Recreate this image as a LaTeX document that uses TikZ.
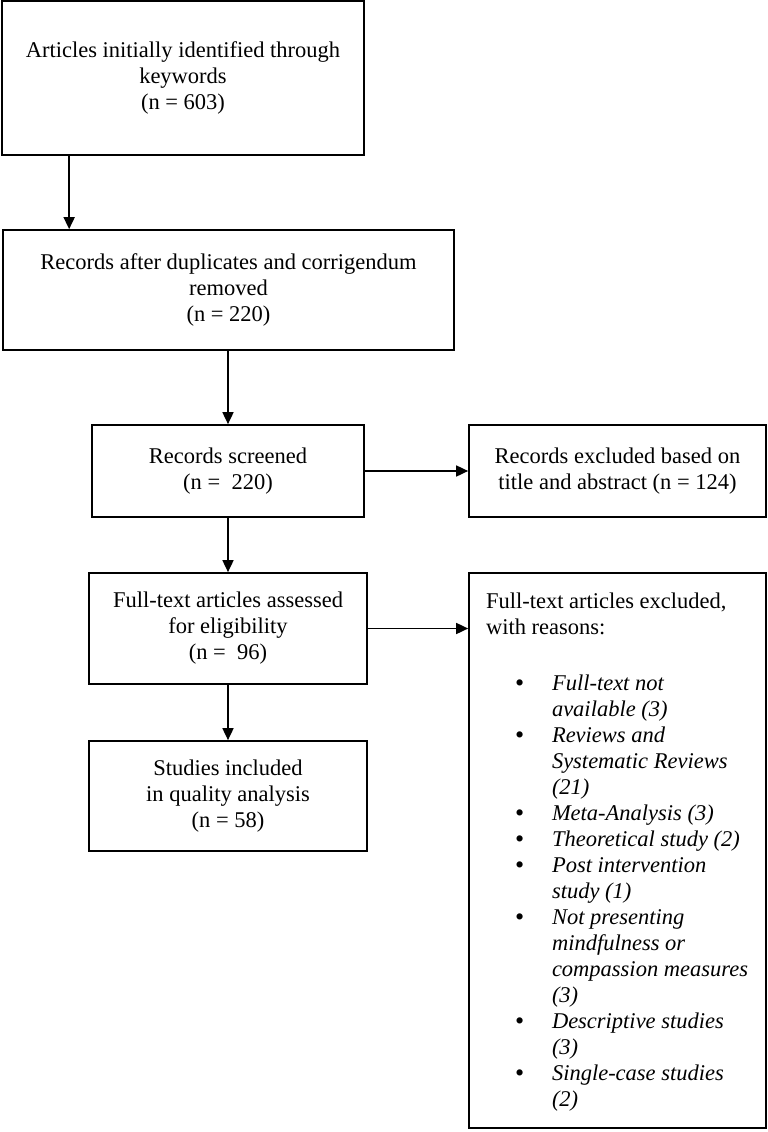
\documentclass[tikz,border=0pt]{standalone}
\usepackage{fontspec}
\setmainfont{Liberation Serif}
\usetikzlibrary{arrows.meta}
\newcommand{\boxfont}{\fontsize{22.5}{26}\selectfont}
\newcommand{\bigdot}{\raisebox{-1pt}{\fontsize{26}{26}\selectfont\textbullet}}

\begin{document}
\begin{tikzpicture}[x=1pt,y=-1pt,
    box/.style={draw,line width=1.7pt,inner sep=0pt,align=center,font=\boxfont},
    arr/.style={line width=1.7pt,-{Triangle[length=12pt,width=11pt]}}]
  \useasboundingbox (0,0) rectangle (768,1132);

  \node[box,minimum width=362pt,minimum height=154pt] (art) at (183,78) {Articles initially identified through\\keywords\\(n = 603)};
  \node[box,minimum width=451pt,minimum height=120pt] (dup) at (228.5,290) {Records after duplicates and corrigendum\\removed\\(n = 220)};
  \node[box,minimum width=272pt,minimum height=92pt] (scr) at (228,471) {Records screened\\(n = \ 220)};
  \node[box,minimum width=297pt,minimum height=92pt] (exs) at (617.5,471) {Records excluded based on\\title and abstract (n = 124)};
  \node[box,minimum width=278pt,minimum height=111pt] (full) at (228,628.5) {Full-text articles assessed\\for eligibility\\(n = \ 96)};
  \node[box,minimum width=278pt,minimum height=110pt] (inc) at (228,796) {Studies included\\in quality analysis\\(n = 58)};
  \node[box,minimum width=297pt,minimum height=555pt] (exf) at (617.5,850.5) {\hspace*{9pt}\parbox[c][535pt][t]{272pt}{\vspace*{10pt}%
    Full-text articles excluded,\\with reasons:
    \begin{list}{\bigdot}{\setlength{\topsep}{30pt}\setlength{\partopsep}{0pt}%
        \setlength{\itemsep}{0pt}\setlength{\parsep}{0pt}\setlength{\leftmargin}{66pt}%
        \setlength{\labelsep}{28pt}\setlength{\labelwidth}{38pt}}\itshape
      \item Full-text not\newline available (3)
      \item Reviews and\newline Systematic Reviews\newline (21)
      \item Meta-Analysis (3)
      \item Theoretical study (2)
      \item Post intervention\newline study (1)
      \item Not presenting\newline mindfulness or\newline compassion measures\newline (3)
      \item Descriptive studies\newline (3)
      \item Single-case studies\newline (2)
    \end{list}}};

  \draw[arr] ([xshift=68pt]art.south west) -- ([xshift=68pt]art.south west |- dup.north);
  \draw[arr] (scr.north |- dup.south) -- (scr.north);
  \draw[arr] (scr) -- (exs);
  \draw[arr] (scr) -- (full);
  \draw[arr] (full.east) -- (full.east -| exf.west);
  \draw[arr] (full) -- (inc);
\end{tikzpicture}
\end{document}
